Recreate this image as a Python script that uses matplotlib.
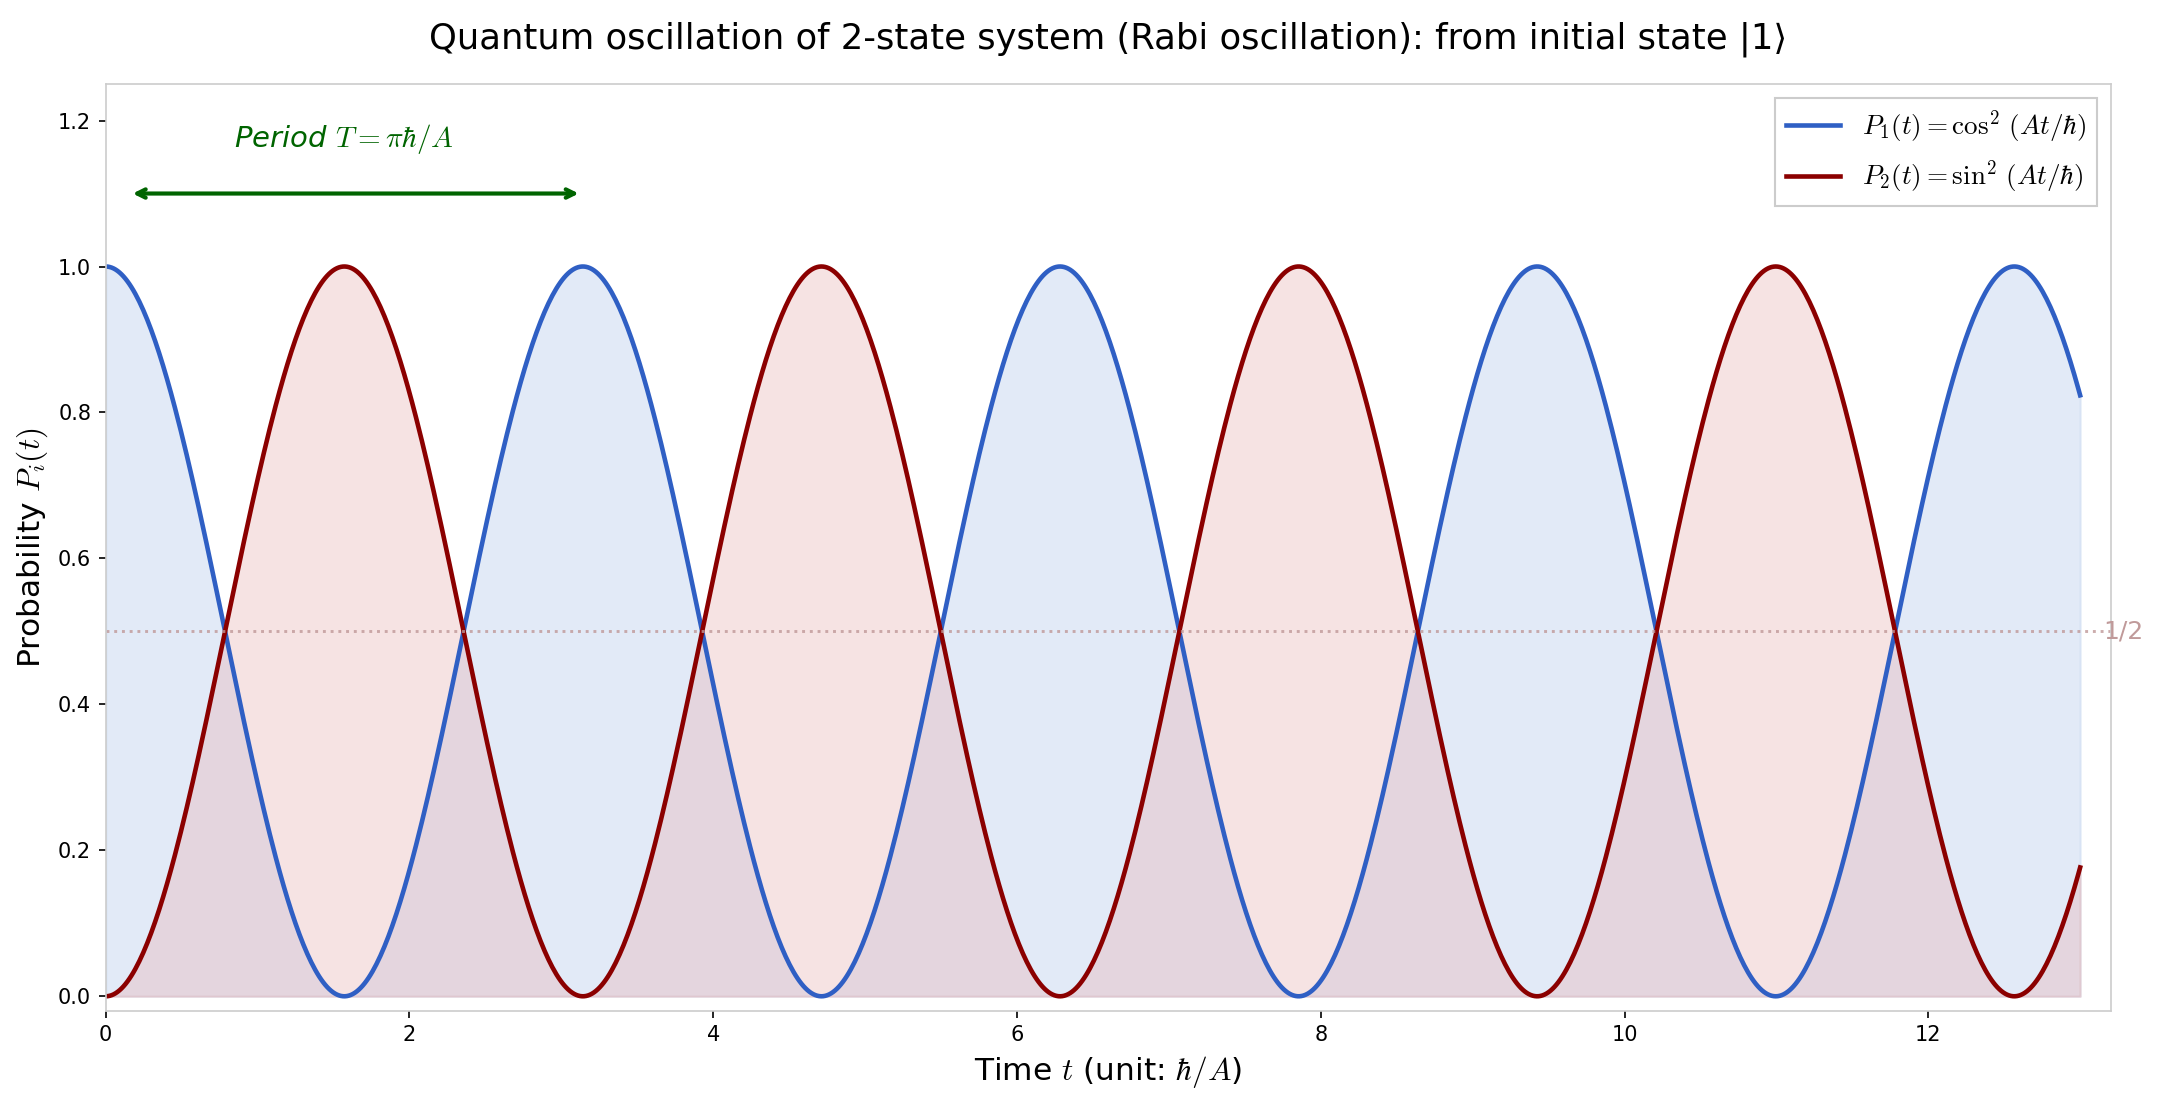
import numpy as np
import matplotlib
matplotlib.use('Agg')
import matplotlib.pyplot as plt

plt.rcParams['mathtext.fontset'] = 'cm'

# parameters (units hbar = A = 1)
A = 1.0
hbar = 1.0
t_start = 0.0
t_end = 13.0
half_level = 0.5
period = np.pi * hbar / A

t = np.linspace(t_start, t_end, 1000)
P1 = np.cos(A * t / hbar) ** 2
P2 = np.sin(A * t / hbar) ** 2

blue = '#2f5fc4'
red = '#8b0000'

fig, ax = plt.subplots(figsize=(2158 / 150, 1106 / 150), dpi=150)
fig.subplots_adjust(left=0.049, right=0.978, top=0.924, bottom=0.086)

ax.fill_between(t, 0, P1, color='#c6d7f0', alpha=0.5)
ax.fill_between(t, 0, P2, color='#e8b0b0', alpha=0.35)
ax.plot(t, P1, color=blue, lw=2.2, label=r'$P_1(t) = \cos^2\,(At/\hbar)$')
ax.plot(t, P2, color=red, lw=2.2, label=r'$P_2(t) = \sin^2\,(At/\hbar)$')

ax.axhline(half_level, color='#c09898', ls=':', lw=1.4, alpha=0.8)
ax.text(13.15, half_level, '1/2', color='#c09a9a', fontsize=12, va='center', ha='left')

ax.annotate('', xy=(0.15, 1.1), xytext=(period, 1.1),
            arrowprops=dict(arrowstyle='<->', color='darkgreen', lw=2))
ax.text(period / 2, 1.175, r'Period $T = \pi\hbar/A$', color='darkgreen',
        fontsize=14, style='italic', ha='center', va='center')

ax.set_xlim(0, 13.2)
ax.set_ylim(-0.02, 1.25)
ax.set_yticks([0.0, 0.2, 0.4, 0.6, 0.8, 1.0, 1.2])
ax.set_xlabel(r'Time $t$ (unit: $\hbar/A$)', fontsize=15)
ax.set_ylabel(r'Probability $P_i(t)$', fontsize=15)
ax.set_title('Quantum oscillation of 2-state system (Rabi oscillation): from initial state |1⟩',
             fontsize=17, pad=17)

for s in ax.spines.values():
    s.set_color('#cccccc')
ax.tick_params(labelsize=10)

leg = ax.legend(loc='upper right', fontsize=13, fancybox=False, framealpha=1)
leg.get_frame().set_edgecolor('#cccccc')

plt.savefig('out.png', dpi=150)
